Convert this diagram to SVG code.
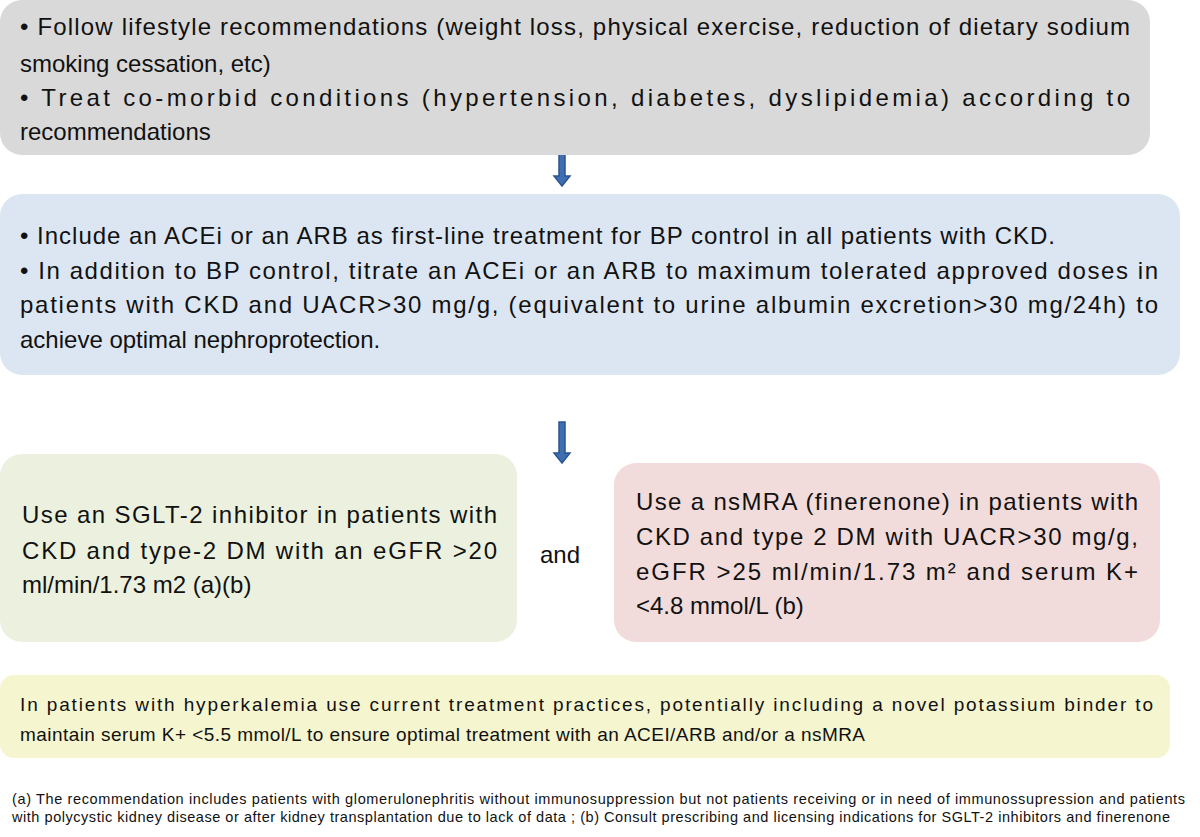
<svg xmlns="http://www.w3.org/2000/svg" width="1200" height="837" viewBox="0 0 1200 837">
<defs>
<style>
text{font-family:"Liberation Sans","Open Sans",sans-serif;fill:#111}
.b{font-size:24px}
.s{font-size:19px}
.f{font-size:14.5px}
.arrow{fill:#3f6fb0;stroke:#2a5590;stroke-width:1.5}
</style>
</defs>
<rect width="1200" height="837" fill="#fff"/>
<g id="connectors">
<path class="arrow" d="M559,153 H565 V176 H570 L562,186 L554,176 H559 Z"/>
<path class="arrow" d="M559,422 H565 V453 H570 L562,463 L554,453 H559 Z"/>
</g>
<g id="n1">
<rect x="0" y="0" width="1150" height="155" rx="22" fill="#d9d9d9"/>
<text class="b" x="20" y="35" textLength="1110" lengthAdjust="spacing">• Follow lifestyle recommendations (weight loss, physical exercise, reduction of dietary sodium</text>
<text class="b" x="20" y="72">smoking cessation, etc)</text>
<text class="b" x="20" y="106" textLength="1110" lengthAdjust="spacing">• Treat co-morbid conditions (hypertension, diabetes, dyslipidemia) according to</text>
<text class="b" x="20" y="140">recommendations</text>
</g>
<g id="n2">
<rect x="0" y="194" width="1180" height="181" rx="22" fill="#dce6f2"/>
<text class="b" x="20" y="244" textLength="1035" lengthAdjust="spacing">• Include an ACEi or an ARB as first-line treatment for BP control in all patients with CKD.</text>
<text class="b" x="20" y="279" textLength="1138" lengthAdjust="spacing">• In addition to BP control, titrate an ACEi or an ARB to maximum tolerated approved doses in</text>
<text class="b" x="20" y="313" textLength="1138" lengthAdjust="spacing">patients with CKD and UACR&gt;30 mg/g, (equivalent to urine albumin excretion&gt;30 mg/24h) to</text>
<text class="b" x="20" y="348">achieve optimal nephroprotection.</text>
</g>
<g id="n3">
<rect x="0" y="454" width="517" height="188" rx="22" fill="#ebf1de"/>
<text class="b" x="22" y="523" textLength="475" lengthAdjust="spacing">Use an SGLT-2 inhibitor in patients with</text>
<text class="b" x="22" y="559" textLength="475" lengthAdjust="spacing">CKD and type-2 DM with an eGFR &gt;20</text>
<text class="b" x="22" y="593">ml/min/1.73 m2 (a)(b)</text>
</g>
<g id="and"><text class="b" x="540" y="563">and</text></g>
<g id="n4">
<rect x="614" y="463" width="546" height="179" rx="22" fill="#f2dcdb"/>
<text class="b" x="636" y="510" textLength="502" lengthAdjust="spacing">Use a nsMRA (finerenone) in patients with</text>
<text class="b" x="636" y="545" textLength="502" lengthAdjust="spacing">CKD and type 2 DM with UACR&gt;30 mg/g,</text>
<text class="b" x="636" y="580" textLength="502" lengthAdjust="spacing">eGFR &gt;25 ml/min/1.73 m² and serum K+</text>
<text class="b" x="636" y="614">&lt;4.8 mmol/L (b)</text>
</g>
<g id="n5">
<rect x="0" y="675" width="1170" height="83" rx="14" fill="#f5f5d0"/>
<text class="s" x="20" y="711" textLength="1133" lengthAdjust="spacing">In patients with hyperkalemia use current treatment practices, potentially including a novel potassium binder to</text>
<text class="s" x="20" y="741" textLength="845" lengthAdjust="spacing">maintain serum K+ &lt;5.5 mmol/L to ensure optimal treatment with an ACEI/ARB and/or a nsMRA</text>
</g>
<g id="footnote">
<text class="f" x="12" y="804" textLength="1173" lengthAdjust="spacing">(a) The recommendation includes patients with glomerulonephritis without immunosuppression but not patients receiving or in need of immunossupression and patients</text>
<text class="f" x="12" y="822" textLength="1158" lengthAdjust="spacing">with polycystic kidney disease or after kidney transplantation due to lack of data ; (b) Consult prescribing  and licensing indications for SGLT-2 inhibitors  and finerenone</text>
</g>
</svg>
